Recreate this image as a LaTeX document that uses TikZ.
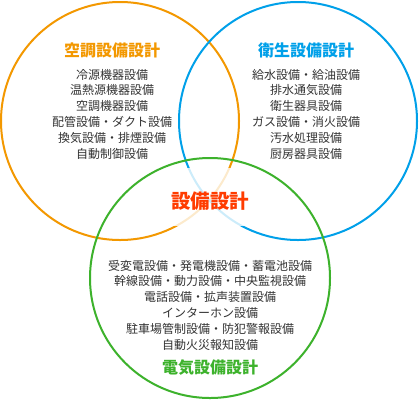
\documentclass[tikz,border=0pt]{standalone}
\usepackage{fontspec}
\setmainfont{Noto Sans CJK JP}
\definecolor{corange}{HTML}{F39800}
\definecolor{cblue}{HTML}{00A0E9}
\definecolor{cgreen}{HTML}{3DB22C}
\definecolor{cred}{HTML}{FF3C00}
\definecolor{ctext}{HTML}{333333}
\begin{document}
\begin{tikzpicture}[x=1pt,y=-1pt,
  ring/.style={line width=2pt},
  title/.style={font=\fontsize{16}{18}\selectfont\bfseries, inner sep=0pt},
  items/.style={font=\fontsize{12}{15.8}\selectfont, text=ctext, align=center, inner sep=0pt}]
\useasboundingbox (0,0) rectangle (420,400);
\fill[white] (0,0) rectangle (420,400);
\draw[ring, corange] (120,121) circle[radius=119];
\draw[ring, cblue] (298,121) circle[radius=119];
\fill[white, fill opacity=0.8] (152,168) rectangle (268,226);
\draw[ring, cgreen] (210,278) circle[radius=120];
\node[title, text=corange] (t1) at (112,50) {空調設備設計};
\node[items] (i1) at (112,114) {冷源機器設備\\温熱源機器設備\\空調機器設備\\配管設備・ダクト設備\\換気設備・排煙設備\\自動制御設備};
\node[title, text=cblue] (t2) at (306,50) {衛生設備設計};
\node[items] (i2) at (306,114) {給水設備・給油設備\\排水通気設備\\衛生器具設備\\ガス設備・消火設備\\汚水処理設備\\厨房器具設備};
\node[title, text=cred, font=\fontsize{19.5}{22}\selectfont\bfseries] (tc) at (210,201) {設備設計};
\node[items] (i3) at (210,305) {受変電設備・発電機設備・蓄電池設備\\幹線設備・動力設備・中央監視設備\\電話設備・拡声装置設備\\インターホン設備\\駐車場管制設備・防犯警報設備\\自動火災報知設備};
\node[title, text=cgreen] (t3) at (210,368) {電気設備設計};
\end{tikzpicture}
\end{document}
